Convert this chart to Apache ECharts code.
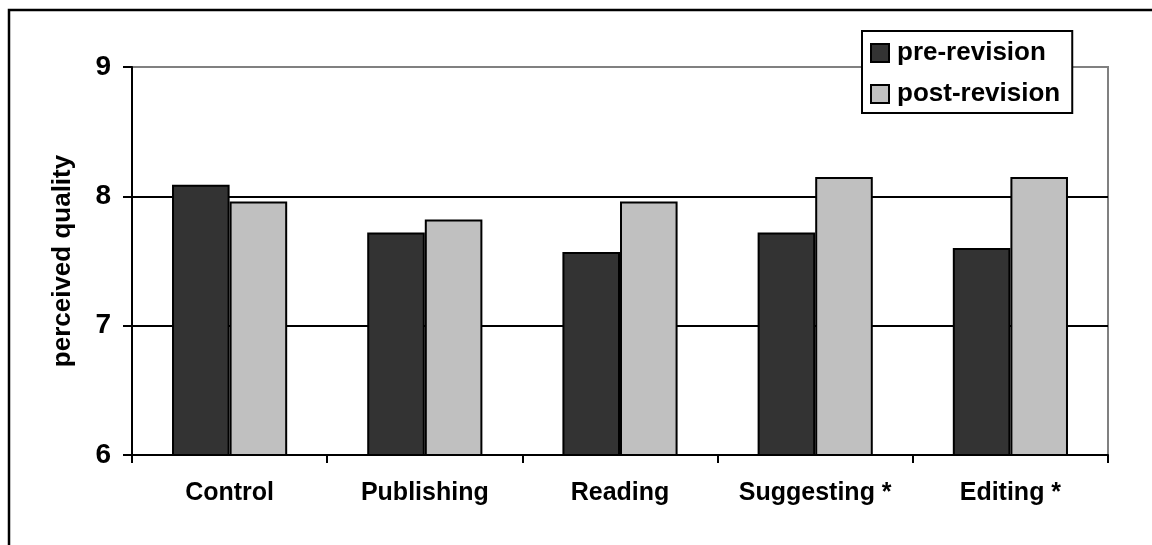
<!DOCTYPE html>
<html>
<head>
<meta charset="utf-8">
<script src="https://cdn.jsdelivr.net/npm/echarts@6/dist/echarts.min.js"></script>
<style>
  html, body { margin: 0; padding: 0; background: #fff; }
  #chart { width: 1152px; height: 545px; }
</style>
</head>
<body>
<div id="chart"></div>
<script>
const categories = ['Control', 'Publishing', 'Reading', 'Suggesting *', 'Editing *'];
const preRevision = [8.09, 7.72, 7.57, 7.72, 7.60];
const postRevision = [7.96, 7.82, 7.96, 8.15, 8.15];
const seriesNames = ['pre-revision', 'post-revision'];

const font = 'Arial, "Liberation Sans", sans-serif';

const chart = echarts.init(document.getElementById('chart'));

const barSeries = (name, data, color) => ({
  name,
  type: 'bar',
  data,
  barGap: '0%',
  barCategoryGap: '41%',
  itemStyle: { color, borderColor: '#000', borderWidth: 2 }
});

chart.setOption({
  animation: false,
  textStyle: { fontFamily: font },
  graphic: [{
    type: 'rect',
    shape: { x: 9, y: 10, width: 1300, height: 700 },
    style: { fill: 'none', stroke: '#000', lineWidth: 2.5 },
    silent: true
  }],
  grid: {
    left: 132, right: 44, top: 67, bottom: 90,
    show: true,
    borderColor: '#808080',
    borderWidth: 2,
    backgroundColor: 'transparent'
  },
  legend: {
    orient: 'vertical',
    left: 862,
    top: 31,
    padding: [7, 12, 4, 8],
    backgroundColor: '#fff',
    borderColor: '#000',
    borderWidth: 2,
    borderRadius: 0,
    itemWidth: 18,
    itemHeight: 18,
    itemGap: 11,
    icon: 'rect',
    data: seriesNames,
    textStyle: {
      fontFamily: font, fontWeight: 'bold', fontSize: 26, color: '#000',
      lineHeight: 30, padding: [0, 0, 0, 3]
    }
  },
  xAxis: {
    type: 'category',
    data: categories,
    axisLine: { lineStyle: { color: '#000', width: 2 } },
    axisTick: { show: true, interval: 0, length: 8, lineStyle: { color: '#000', width: 2 } },
    axisLabel: {
      interval: 0,
      fontFamily: font, fontWeight: 'bold', fontSize: 25, color: '#000', margin: 26
    }
  },
  yAxis: {
    type: 'value',
    min: 6,
    max: 9,
    interval: 1,
    name: 'perceived quality',
    nameLocation: 'middle',
    nameGap: 56,
    nameTextStyle: { fontFamily: font, fontWeight: 'bold', fontSize: 26, color: '#000' },
    axisLine: { show: true, lineStyle: { color: '#000', width: 2 } },
    axisTick: { show: true, length: 9, lineStyle: { color: '#000', width: 2 } },
    axisLabel: {
      fontFamily: font, fontWeight: 'bold', fontSize: 28, color: '#000', margin: 21
    },
    splitLine: {
      show: true,
      showMinLine: false,
      showMaxLine: false,
      lineStyle: { color: '#000', width: 2 }
    }
  },
  series: [
    barSeries(seriesNames[0], preRevision, '#333333'),
    barSeries(seriesNames[1], postRevision, '#c0c0c0')
  ]
});
</script>
</body>
</html>
